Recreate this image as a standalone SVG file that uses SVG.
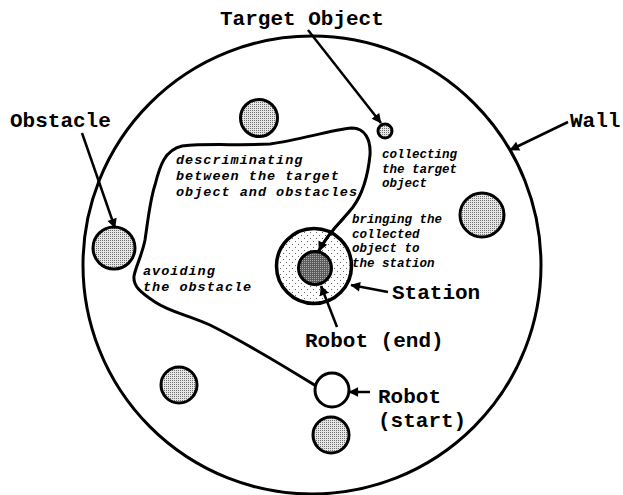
<svg xmlns="http://www.w3.org/2000/svg" width="623" height="495" viewBox="0 0 623 495">
<style>
.lbl{font-family:"Liberation Mono","Courier New",monospace;font-weight:bold;font-size:21px;fill:#000}
.it{font-family:"Liberation Mono","Courier New",monospace;font-weight:bold;font-style:italic;fill:#000}
.big{font-size:13.5px;letter-spacing:1px}
.sm{font-size:12.5px}
.ob{fill:url(#dots);stroke:#000;stroke-width:3}
.ln{fill:none;stroke:#000;stroke-width:3}
.ar{fill:none;stroke:#000;stroke-width:2.5;marker-end:url(#ah)}
</style>
<defs>
<pattern id="dots" width="2" height="2" patternUnits="userSpaceOnUse">
<rect width="2" height="2" fill="#e6e6e6"/><rect width="1" height="1" fill="#707070"/>
</pattern>
<pattern id="sparse" width="6" height="6" patternUnits="userSpaceOnUse">
<rect width="6" height="6" fill="#fff"/><rect x="1" y="1" width="1" height="1" fill="#666"/><rect x="4" y="4" width="1" height="1" fill="#666"/>
</pattern>
<pattern id="dark" width="2" height="2" patternUnits="userSpaceOnUse">
<rect width="2" height="2" fill="#5a5a5a"/><rect width="1" height="1" fill="#b0b0b0"/>
</pattern>
<marker id="ah" viewBox="0 0 10 10" refX="9" refY="5" markerWidth="6" markerHeight="6" orient="auto" markerUnits="userSpaceOnUse" overflow="visible">
<path d="M0,0 L10,5 L0,10 z" fill="#000" transform="scale(1.6) translate(-3.8,-1.9)"/>
</marker>
</defs>
<g id="wall"><circle cx="312" cy="265" r="229" class="ln"/></g>
<g id="obstacles">
<circle cx="259" cy="118" r="18.5" class="ob"/>
<circle cx="114" cy="248" r="21" class="ob"/>
<circle cx="482" cy="215" r="22" class="ob"/>
<circle cx="179" cy="385" r="18" class="ob"/>
<circle cx="331" cy="435" r="18" class="ob"/>
</g>
<g id="target"><circle cx="385" cy="131" r="7" class="ob"/></g>
<g id="station"><circle cx="314" cy="266" r="37.5" fill="url(#sparse)" stroke="#000" stroke-width="3.5"/></g>
<g id="robot-end"><circle cx="315" cy="268" r="16.5" fill="url(#dark)" stroke="#000" stroke-width="3"/></g>
<g id="robot-start"><circle cx="332" cy="390" r="17" fill="#fff" stroke="#000" stroke-width="3"/></g>
<g id="connectors">
<path class="ln" d="M316,386 C290,370 250,345 210,325 C185,314 170,312 155,302 C140,292 133,286 134,276 C136,266 142,255 145,240 C148,220 150,200 155,185 C160,165 165,150 182,146 C210,143 240,146 270,144 C300,140 330,130 352,128 C365,128 371,140 370,155 C368,175 364,192 353,207 C343,220 330,230 318,252"/>
<path class="ar" d="M344,218 C333,229 325,238 319,251" />
<path class="ar" d="M308,30 L381,123"/>
<path class="ar" d="M82,133 L115,228"/>
<path class="ar" d="M568,122 L510,150"/>
<path class="ar" d="M388,292 L351,285"/>
<path class="ar" d="M337,327 L321,286"/>
<path class="ar" d="M370,392 L349,392"/>
</g>
<g id="labels">
<text class="lbl" x="220" y="25">Target Object</text>
<text class="lbl" x="10" y="127">Obstacle</text>
<text class="lbl" x="570" y="127">Wall</text>
<text class="lbl" x="392" y="299">Station</text>
<text class="lbl" x="305" y="347">Robot (end)</text>
<text class="lbl" x="378" y="403">Robot</text>
<text class="lbl" x="378" y="427">(start)</text>
<text class="it big" x="176" y="164">descriminating</text>
<text class="it big" x="176" y="180">between the target</text>
<text class="it big" x="176" y="196">object and obstacles</text>
<text class="it sm" x="382" y="158">collecting</text>
<text class="it sm" x="382" y="172.5">the target</text>
<text class="it sm" x="382" y="187">object</text>
<text class="it sm" x="352" y="223">bringing the</text>
<text class="it sm" x="352" y="237.5">collected</text>
<text class="it sm" x="352" y="252">object to</text>
<text class="it sm" x="352" y="266.5">the station</text>
<text class="it big" x="143" y="275">avoiding</text>
<text class="it big" x="143" y="291">the obstacle</text>
</g>
</svg>
